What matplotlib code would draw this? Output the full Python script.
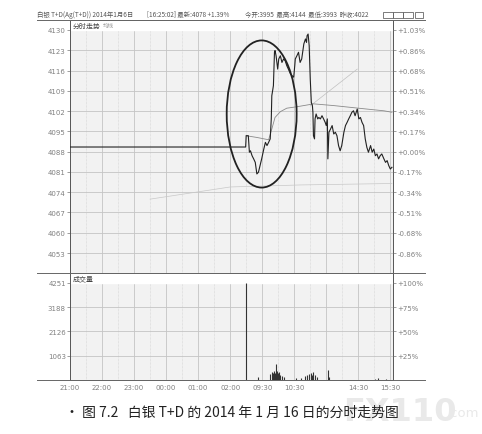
import matplotlib
matplotlib.use("Agg")
import matplotlib.pyplot as plt
from matplotlib.patches import Ellipse, Rectangle
from matplotlib.lines import Line2D

plt.rcParams['font.family'] = ['Noto Sans CJK SC', 'DejaVu Sans']

# x axis = trading minutes counted from 21:00 (night session, then day session)
price_min = [0, 329, 330, 334, 336, 338, 341, 344, 347, 350, 353, 356, 359, 363, 366, 369,
             372, 375, 377, 378, 380, 381, 383, 384, 386, 389, 391, 394, 397, 400, 403, 406,
             409, 413, 416, 419, 421, 422, 425, 428, 431, 434, 438, 441, 443, 444, 446, 448,
             450, 452, 454, 455, 456, 458, 459, 461, 464, 466, 469, 472, 475, 478, 480, 482,
             483, 485, 488, 491, 494, 497, 500, 503, 506, 509, 513, 516, 519, 522, 525, 528,
             531, 534, 538, 541, 544, 547, 550, 553, 556, 559, 563, 566, 569, 572, 575, 578,
             581, 584, 588, 591, 594, 597, 600, 603]
price_val = [4089.6, 4089.6, 4093.5, 4093.5, 4087.8, 4088.3, 4086.6, 4085.5, 4084.3, 4080.3,
             4080.9, 4083.2, 4085.5, 4088.9, 4091.2, 4090.1, 4091.2, 4092.4, 4099.3, 4107.3,
             4109.6, 4110.8, 4122.3, 4122.9, 4121.1, 4116.5, 4120.0, 4121.1, 4118.8, 4120.0,
             4119.4, 4117.7, 4116.5, 4114.8, 4114.2, 4113.7, 4117.7, 4120.0, 4121.1, 4122.3,
             4118.8, 4120.0, 4125.2, 4126.9, 4125.7, 4128.0, 4128.6, 4124.6, 4113.1, 4105.0,
             4103.9, 4101.6, 4093.5, 4092.4, 4099.3, 4101.0, 4099.3, 4099.8, 4099.3, 4100.4,
             4099.3, 4098.1, 4097.0, 4099.3, 4085.5, 4094.7, 4095.8, 4097.0, 4094.1, 4094.7,
             4093.5, 4090.1, 4088.3, 4090.1, 4094.7, 4097.0, 4098.1, 4099.3, 4100.4, 4101.6,
             4102.1, 4100.4, 4102.7, 4099.3, 4099.8, 4098.1, 4097.0, 4092.4, 4089.5, 4087.8,
             4090.1, 4087.8, 4088.9, 4086.6, 4087.2, 4085.5, 4086.6, 4087.2, 4085.5, 4084.3,
             4084.9, 4083.2, 4082.0, 4082.6]

avg_min = [330, 350, 372, 378, 384, 394, 406, 425, 444, 456, 469, 494, 525, 556, 588, 603]
avg_val = [4093.5, 4092.9, 4092.1, 4095.8, 4099.8, 4101.8, 4103.0, 4103.5, 4104.1, 4104.5,
           4104.3, 4103.9, 4103.3, 4102.7, 4102.1, 4101.6]

# faint extra lines visible in the scan
faint1_min = [450, 538]
faint1_val = [4103.8, 4116.5]
faint2_min = [150, 300, 431, 603]
faint2_val = [4071.6, 4075.8, 4076.5, 4077.0]

vol_min = [330, 352, 375, 379, 381, 383, 384, 386, 388, 390, 392, 394, 397, 401, 424, 433,
           441, 444, 448, 452, 454, 456, 459, 463, 484, 486, 572, 577, 591]
vol_val = [4251, 120, 250, 350, 300, 400, 320, 720, 380, 300, 350, 220, 180, 120, 100, 90,
           180, 200, 260, 300, 240, 330, 200, 120, 420, 150, 60, 80, 60]

price_ticks = [4130, 4123, 4116, 4109, 4102, 4095, 4088, 4081, 4074, 4067, 4060, 4053]
pct_labels = ['+1.03%', '+0.86%', '+0.68%', '+0.51%', '+0.34%', '+0.17%', '+0.00%',
              '-0.17%', '-0.34%', '-0.51%', '-0.68%', '-0.86%']
vol_ticks = [4251, 3188, 2126, 1063]
vol_pct_labels = ['+100%', '+75%', '+50%', '+25%']
time_pos = [0, 60, 120, 180, 240, 300, 360, 420, 540, 600]
time_labels = ['21:00', '22:00', '23:00', '00:00', '01:00', '02:00', '09:30', '10:30',
               '14:30', '15:30']

W, H = 482, 435
def fx(px):
    return px / W
def fy(py):
    return 1 - py / H

fig = plt.figure(figsize=(W / 100, H / 100), dpi=100)
fig.patch.set_facecolor('white')

ax = fig.add_axes([fx(70), fy(274), (393 - 70) / W, (274 - 21) / H])
axv = fig.add_axes([fx(70), fy(381), (393 - 70) / W, (381 - 274) / H])

tick_col = '#808080'
for a, top, ticks in [(ax, 4130, price_ticks), (axv, 4251, vol_ticks)]:
    a.set_facecolor('#f2f2f2')
    a.set_xlim(0, 605)
    for m in range(30, 605, 30):
        if m % 60 == 0:
            a.axvline(m, color='#c4c4c4', lw=0.6, zorder=0.5)
        else:
            a.axvline(m, color='#d2d2d2', lw=0.5, ls=(0, (1, 1)), zorder=0.5)
    for t in ticks:
        a.axhline(t, color='#c4c4c4', lw=0.6, zorder=0.5)
    for s in a.spines.values():
        s.set_color('#555555')
        s.set_linewidth(0.7)
    a.set_xticks([])

ax.set_ylim(4046.1, 4133.45)
ax.axhspan(4130, 4134, color='white', zorder=1)
axv.set_ylim(0, 4689)
axv.axhspan(4251, 4700, color='white', zorder=1)

# price panel
ax.plot(price_min, price_val, color='#222222', lw=0.8, zorder=3)
ax.plot(avg_min, avg_val, color='#8a8a8a', lw=0.6, zorder=2.5)
ax.plot(faint1_min, faint1_val, color='#c0c0c0', lw=0.5, zorder=2)
ax.plot(faint2_min, faint2_val, color='#c8c8c8', lw=0.5, zorder=2)
ax.add_patch(Ellipse((359, 4101), 131, 50.8, fill=False, ec='#222222', lw=1.3, zorder=4))
ax.text(0.008, 0.993, '分时走势', transform=ax.transAxes, fontsize=5, color='#444444',
        va='top', ha='left', zorder=5)
ax.text(0.1, 0.99, '均线', transform=ax.transAxes, fontsize=4, color='#999999',
        va='top', ha='left', zorder=5)

ax.set_yticks(price_ticks)
ax.set_yticklabels([str(t) for t in price_ticks], fontsize=5, color=tick_col,
                   family='DejaVu Sans')
ax.tick_params(axis='y', length=2, width=0.5, color='#777777', pad=1)
axr = ax.twinx()
axr.set_ylim(ax.get_ylim())
axr.set_yticks(price_ticks)
axr.set_yticklabels(pct_labels, fontsize=5, color=tick_col, family='DejaVu Sans')
axr.tick_params(axis='y', length=2, width=0.5, color='#777777', pad=1)
for s in axr.spines.values():
    s.set_visible(False)

# volume panel
axv.vlines(vol_min, 0, vol_val, color='#333333', lw=0.8, zorder=3)
axv.text(0.008, 0.99, '成交量', transform=axv.transAxes, fontsize=5, color='#444444',
         va='top', ha='left', zorder=5)
axv.set_yticks(vol_ticks)
axv.set_yticklabels([str(t) for t in vol_ticks], fontsize=5, color=tick_col,
                    family='DejaVu Sans')
axv.tick_params(axis='y', length=2, width=0.5, color='#777777', pad=1)
axv.set_xticks(time_pos)
axv.set_xticklabels(time_labels, fontsize=5, color=tick_col, family='DejaVu Sans')
axv.tick_params(axis='x', length=0, pad=3)
axvr = axv.twinx()
axvr.set_ylim(axv.get_ylim())
axvr.set_yticks(vol_ticks)
axvr.set_yticklabels(vol_pct_labels, fontsize=5, color=tick_col, family='DejaVu Sans')
axvr.tick_params(axis='y', length=2, width=0.5, color='#777777', pad=1)
for s in axvr.spines.values():
    s.set_visible(False)

# frame lines running past the panels
for py in [21, 274, 381]:
    fig.add_artist(Line2D([fx(37), fx(425)], [fy(py), fy(py)], color='#666666', lw=0.7))

# header
hdr = dict(fontsize=4.6, color='#555555', va='center', ha='left')
fig.text(fx(37), fy(15), '白银 T+D(Ag(T+D)) 2014年1月6日', **hdr)
fig.text(fx(147), fy(15), '[16:25:02] 最新:4078 +1.39%', **hdr)
fig.text(fx(245), fy(15), '今开:3995  最高:4144  最低:3993  昨收:4022', **hdr)
for bx, bw in [(383, 10), (393, 10), (403, 10), (415, 8)]:
    fig.add_artist(Rectangle((fx(bx), fy(19)), bw / W, 6 / H, fill=False,
                             ec='#666666', lw=0.6))

# watermark, sits under the caption
fig.text(fx(343), fy(421), 'FX110', fontsize=23, weight='bold', color='#e9e9e9',
         family='DejaVu Sans', zorder=10)
fig.text(fx(447), fy(417), '.com', fontsize=9.5, color='#e9e9e9', family='DejaVu Sans',
         zorder=10)

# caption
fig.text(fx(232), fy(413), '• 图 7.2   白银 T+D 的 2014 年 1 月 16 日的分时走势图',
         fontsize=10, color='#222222', ha='center', va='center', zorder=11)

fig.savefig('out.png', dpi=100)
